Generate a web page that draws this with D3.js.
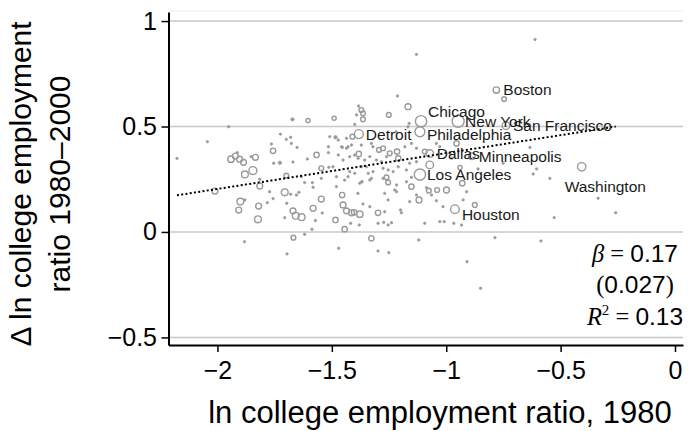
<!DOCTYPE html>
<html>
<head>
<meta charset="utf-8">
<script src="https://cdn.jsdelivr.net/npm/d3@7"></script>
<style>
  body { margin: 0; background: #fff; }
  svg { display: block; }
  text { font-family: "Liberation Sans", Arial, Helvetica, sans-serif; }
</style>
</head>
<body>
<svg id="chart" width="688" height="431"></svg>
<script>
// Metro areas: ln college employment ratio in 1980 (x), change 1980–2000 (y), population weight
const metroX = [
  -2.177,-2.044,-1.951,-1.672,-1.604,-1.490,-1.725,-1.699,-1.680,-1.677,
  -1.764,-1.652,-1.757,-1.941,-1.922,-1.903,-1.886,-1.913,-1.853,-1.834,
  -1.754,-1.727,-1.670,-1.607,-1.567,-1.515,-1.515,-1.484,-1.472,-1.880,
  -1.845,-1.699,-1.546,-1.495,-1.815,-1.815,-2.011,-1.900,-1.880,-1.907,
  -1.820,-1.823,-1.882,-1.772,-1.782,-1.757,-1.706,-1.680,-1.655,-1.644,
  -1.697,-1.706,-1.670,-1.658,-1.632,-1.668,-1.619,-1.587,-1.582,-1.572,
  -1.546,-1.542,-1.484,-1.444,-1.470,-1.451,-1.436,-1.414,-1.403,-1.378,
  -1.364,-1.386,-1.455,-1.480,-1.619,-1.585,-1.472,-1.451,-1.422,-1.382,
  -1.356,-1.454,-1.429,-1.369,-1.400,-1.422,-1.429,-1.444,-1.480,-1.513,
  -1.349,-1.341,
  -1.213,-1.167,-1.383,-1.371,-1.364,-1.364,-1.392,-1.400,-1.251,-1.162,
  -1.436,-1.410,-1.457,-1.436,-1.414,-1.371,-1.327,-1.320,-1.294,-1.276,
  -1.247,-1.215,-1.181,-1.152,-1.130,-1.094,-1.400,-1.385,-1.334,-1.305,
  -1.283,-1.261,-1.210,-1.160,-1.130,-1.072,-1.371,-1.320,-1.276,-1.254,
  -1.232,-1.210,-1.174,-1.334,-1.276,-1.254,-1.217,-1.174,-1.378,-1.152,
  -1.086,
  -1.152,-1.261,-1.327,-1.368,-1.269,-1.254,-1.225,-1.217,-1.160,-1.130,
  -1.119,-1.076,-1.040,-0.999,-1.064,-1.043,-1.014,-0.926,-0.911,-0.930,
  -0.875,-1.418,-1.380,-1.334,-1.298,-1.269,-1.298,-1.273,-1.254,-1.239,
  -1.200,-1.196,-1.094,-1.028,-1.009,-0.967,-0.933,-1.327,-1.298,-1.251,
  -1.120,-0.909,-0.850,-0.787,
  -0.620,-0.547,-0.336,-0.259,-0.528,-0.586,
  -0.747,-0.955,-0.634,-0.940,-0.605,-0.612,-1.130,-1.219,-1.167,-1.028,
  -1.043,-0.984,-0.977,-1.509,-0.861,-0.751,-1.696,-1.634,-1.582,-1.546
];
const metroY = [
  0.349,0.428,0.499,0.534,0.528,0.539,0.464,0.439,0.449,0.420,
  0.417,0.401,0.385,0.345,0.360,0.345,0.330,0.376,0.357,0.354,
  0.326,0.328,0.332,0.346,0.365,0.376,0.404,0.449,0.436,0.273,
  0.291,0.267,0.302,0.309,0.250,0.218,0.194,0.144,0.152,0.104,
  0.123,0.060,-0.046,0.191,0.139,0.158,0.188,0.179,0.175,0.188,
  0.136,0.068,0.100,0.077,0.070,-0.027,-0.011,0.013,0.112,0.054,
  0.156,0.090,0.057,0.013,-0.077,0.128,0.100,0.091,0.093,0.084,
  0.133,0.183,0.175,0.215,0.234,0.234,0.365,0.341,0.357,0.370,
  0.341,0.401,0.404,0.238,0.278,0.286,0.262,0.246,0.262,0.307,
  0.309,0.278,
  0.645,0.594,0.597,0.578,0.563,0.534,0.555,0.510,0.555,0.515,
  0.444,0.452,0.404,0.397,0.412,0.412,0.420,0.404,0.389,0.397,
  0.373,0.381,0.404,0.420,0.397,0.381,0.365,0.349,0.357,0.341,
  0.333,0.357,0.349,0.326,0.333,0.318,0.309,0.286,0.302,0.294,
  0.286,0.309,0.294,0.246,0.254,0.235,0.223,0.238,0.231,0.215,
  0.210,
  0.259,0.259,0.254,0.238,0.183,0.152,0.199,0.191,0.144,0.175,
  0.152,0.196,0.199,0.199,0.175,0.148,0.120,0.152,0.191,0.231,
  0.128,0.041,0.033,0.120,0.091,0.096,0.041,0.046,0.033,0.044,
  0.104,0.091,0.041,0.049,0.049,0.041,0.033,-0.030,-0.090,-0.098,
  -0.038,-0.141,-0.267,-0.027,
  0.275,0.254,0.160,0.091,0.068,-0.043,
  0.630,0.420,0.401,0.305,0.299,0.913,0.842,0.475,0.499,0.404,
  0.420,0.373,0.349,0.452,0.299,0.326,-0.104,0.262,0.212,0.254
];
const metroPop = [
  1,1,1,2,3,3,1,1,1,1,
  1,1,5,7,6,6,6,1,1,6,
  1,2,1,1,5,1,1,2,1,8,
  11,4,4,1,1,6,6,8,1,6,
  6,8,1,1,1,1,8,1,1,1,
  1,1,6,8,8,4,1,1,6,1,
  6,1,5,5,1,6,6,6,5,7,
  1,1,5,1,1,1,1,1,1,5,
  1,1,1,1,1,1,1,1,1,1,
  1,1,
  1,6,1,4,4,4,1,1,4,1,
  1,4,1,1,1,1,1,1,4,4,
  4,5,1,1,1,4,1,1,1,1,
  1,1,5,1,1,10,1,1,1,1,
  1,1,1,1,1,4,1,1,1,5,
  1,
  1,4,1,1,1,1,1,1,1,1,
  6,4,4,6,1,1,1,1,1,5,
  4,1,1,1,5,1,1,1,1,1,
  1,1,1,1,1,1,1,5,1,1,
  1,1,1,1,
  1,1,1,1,1,1,
  4,5,1,3,1,1,1,1,1,1,
  1,1,1,1,1,1,1,1,1,1
];

// Labelled metro areas
const cityNames = ["Boston","Chicago","New York","San Francisco","Detroit","Philadelphia",
                   "Dallas","Minneapolis","Los Angeles","Washington","Houston"];
const cityX   = [-0.781,-1.110,-0.948,-0.739,-1.382,-1.115,-1.072,-0.888,-1.115,-0.408,-0.962];
const cityY   = [ 0.673, 0.525, 0.525, 0.504, 0.464, 0.475, 0.372, 0.359, 0.272, 0.309, 0.108];
const cityPop = [ 7, 22, 25, 10, 14, 17, 10, 8, 22, 12, 13];

// Axis ticks
const xTicks = [-2, -1.5, -1, -0.5, 0];
const yTicks = [-0.5, 0, 0.5, 1];

// Fitted line and its statistics
const slope = 0.17, slopeSE = 0.027, rSquared = 0.13;
const intercept = 0.544;

// Label nudges (pixels) where a name would otherwise collide
const labelNudge = {
  "Chicago": [0, -10],
  "Philadelphia": [0, 3],
  "Houston": [0, 5],
  "Washington": [-24, 20]
};

const svg = d3.select("#chart");
const margin = { top: 12, right: 5, bottom: 86, left: 168.5 };
const W = 688 - margin.left - margin.right;
const H = 431 - margin.top - margin.bottom;

const x = d3.scaleLinear().domain([-2.214, 0.035]).range([0, W]);
const y = d3.scaleLinear().domain([-0.536, 1.043]).range([H, 0]);
const r = d3.scaleSqrt().domain([0, 25]).range([0, 6]);

const g = svg.append("g").attr("transform", `translate(${margin.left},${margin.top})`);

// faint frame top
g.append("line")
  .attr("x1", 0).attr("x2", W).attr("y1", -1).attr("y2", -1)
  .attr("stroke", "#eeeeee").attr("stroke-width", 1);

// horizontal grid
g.append("g").selectAll("line")
  .data(yTicks).join("line")
  .attr("x1", 0).attr("x2", W)
  .attr("y1", d => y(d)).attr("y2", d => y(d))
  .attr("stroke", "#c8c8c8").attr("stroke-width", 1.5);

// scatter points
const metros = metroX.map((v, i) => ({ x: v, y: metroY[i], pop: metroPop[i] }));
const cities = cityNames.map((n, i) => ({ name: n, x: cityX[i], y: cityY[i], pop: cityPop[i] }));
const allPts = metros.concat(cities);

g.append("g").selectAll("circle")
  .data(allPts).join("circle")
  .attr("cx", d => x(d.x)).attr("cy", d => y(d.y))
  .attr("r", d => r(d.pop))
  .attr("fill", d => d.pop <= 2 ? "#9a9a9a" : "none")
  .attr("stroke", "#9a9a9a")
  .attr("stroke-width", d => d.pop <= 2 ? 0.8 : 1.4);

// regression line across the range of the data
const xExt = d3.extent(allPts, d => d.x);
const fit = d3.line().x(d => x(d)).y(d => y(intercept + slope * d));
g.append("path")
  .datum(xExt)
  .attr("d", fit)
  .attr("fill", "none")
  .attr("stroke", "#000")
  .attr("stroke-width", 2)
  .attr("stroke-dasharray", "2,2.3");

// city labels
g.append("g").selectAll("text")
  .data(cities).join("text")
  .attr("x", d => x(d.x) + 7 + (labelNudge[d.name] ? labelNudge[d.name][0] : 0))
  .attr("y", d => y(d.y) + (labelNudge[d.name] ? labelNudge[d.name][1] : 0))
  .attr("dy", "0.35em")
  .attr("font-size", 15.5)
  .attr("fill", "#1a1a1a")
  .text(d => d.name);

// axes
const yAxis = d3.axisLeft(y).tickValues(yTicks).tickFormat(d3.format(""))
  .tickSize(7).tickSizeOuter(0).tickPadding(4.5);
const xAxis = d3.axisBottom(x).tickValues(xTicks).tickFormat(d3.format(""))
  .tickSize(7).tickSizeOuter(0).tickPadding(9);

const gy = g.append("g").call(yAxis);
const gx = g.append("g").attr("transform", `translate(0,${H})`).call(xAxis);
[gx, gy].forEach(a => {
  a.attr("font-family", null).attr("font-size", null);
  a.select(".domain").attr("stroke", "#000").attr("stroke-width", 2);
  a.selectAll(".tick line").attr("stroke", "#000").attr("stroke-width", 1.5);
  a.selectAll(".tick text").attr("fill", "#000").attr("font-size", 25);
});

// axis titles
svg.append("text")
  .attr("x", 440).attr("y", 423)
  .attr("text-anchor", "middle").attr("font-size", 31).attr("fill", "#000")
  .text("ln college employment ratio, 1980");

svg.append("text")
  .attr("transform", "translate(31,184) rotate(-90)")
  .attr("text-anchor", "middle").attr("font-size", 30).attr("fill", "#000")
  .text("\u0394 ln college employment");
svg.append("text")
  .attr("transform", "translate(70,184) rotate(-90)")
  .attr("text-anchor", "middle").attr("font-size", 30).attr("fill", "#000")
  .text("ratio 1980\u20132000");

// regression statistics
const serif = "'Liberation Serif', 'DejaVu Serif', serif";
const stat = svg.append("g").attr("font-size", 24.5).attr("fill", "#000").attr("text-anchor", "middle");
const l1 = stat.append("text").attr("x", 635).attr("y", 262);
l1.append("tspan").attr("font-family", serif).attr("font-style", "italic").text("\u03B2");
l1.append("tspan").attr("font-family", serif).text(" = ");
l1.append("tspan").text(slope.toFixed(2));
const l2 = stat.append("text").attr("x", 635).attr("y", 293);
l2.append("tspan").attr("font-family", serif).text("(");
l2.append("tspan").text(slopeSE.toFixed(3));
l2.append("tspan").attr("font-family", serif).text(")");
const l3 = stat.append("text").attr("x", 635).attr("y", 325);
l3.append("tspan").attr("font-family", serif).attr("font-style", "italic").text("R");
l3.append("tspan").attr("font-family", serif).attr("font-size", 15).attr("dy", -10).text("2");
l3.append("tspan").attr("font-family", serif).attr("dy", 10).text(" = ");
l3.append("tspan").text(rSquared.toFixed(2));
</script>
</body>
</html>
